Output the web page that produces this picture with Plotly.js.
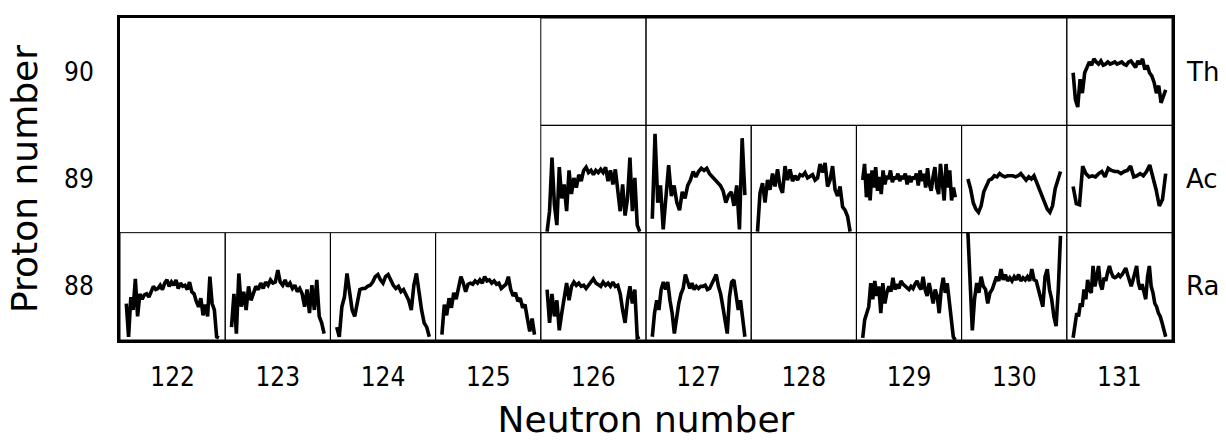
<!DOCTYPE html>
<html>
<head>
<meta charset="utf-8">
<script src="https://cdn.plot.ly/plotly-3.0.1.min.js"></script>
<style>html,body{margin:0;padding:0;background:#fff;}#chart{width:1226px;height:441px;}</style>
</head>
<body>
<div id="chart"></div>
<script>
// Axis categories
const neutronTicks = [122, 123, 124, 125, 126, 127, 128, 129, 130, 131];
const protonTicks = [88, 89, 90];
const elementNames = ["Ra", "Ac", "Th"];

// Spectra per cell: height inside the cell, percent of cell height (0 = cell bottom, 100 = cell top)
const ra122 = [34,3,40,28,57,22,43,38,42,43,40,46,50,47,48,51,47,53,56,50,54,51,56,48,53,50,51,47,54,45,43,36,31,39,23,33,22,59,34,28,3,2];
const ra123 = [12,43,6,62,31,45,28,50,37,43,50,47,53,48,54,51,56,53,54,65,54,51,56,50,53,48,51,45,48,43,31,47,25,51,28,56,22,16,6];
const ra124 = [12,3,31,40,62,43,28,22,37,47,48,48,50,51,54,59,61,56,53,59,61,56,51,48,50,45,47,42,37,28,51,62,43,28,16,12,3];
const ra125 = [5,33,23,39,30,44,38,48,59,53,45,52,53,52,55,53,56,53,59,55,56,53,55,52,53,48,50,52,59,47,41,44,36,39,30,33,20,8,20,5];
const ra126 = [47,16,43,22,37,9,25,40,53,37,50,54,51,53,50,51,48,51,54,57,53,51,50,54,51,53,50,54,50,51,43,28,16,37,50,34,47,2,3];
const ra127 = [3,25,37,28,47,54,47,54,37,25,6,22,34,43,48,61,53,48,53,47,50,48,50,50,51,47,48,53,56,61,50,43,31,19,6,40,54,56,43,28,37,16,3];
const ra129 = [2,19,25,31,53,38,55,41,50,25,53,34,44,50,45,58,47,52,48,55,52,50,48,47,50,48,52,55,50,47,59,47,41,53,44,34,47,41,25,47,58,44,53,38,19,3,0];
const ra130 = [100,47,9,38,53,44,59,50,47,34,44,47,53,59,55,66,56,61,55,58,55,59,56,61,55,58,56,59,55,66,56,55,47,39,31,59,66,47,38,22,13,47,97];
const ra131 = [2,13,25,22,34,31,47,38,56,47,44,69,50,59,69,52,47,58,55,63,69,63,59,58,59,61,59,61,64,67,61,55,50,56,63,69,53,47,52,44,38,59,69,50,44,34,31,25,22,16,9,3];
const ac126 = [1,20,70,26,7,61,32,45,20,58,36,51,42,54,48,58,61,56,58,54,58,56,59,56,61,48,58,45,59,38,20,45,16,32,70,20,51,7,1];
const ac127 = [13,92,28,44,3,38,63,34,44,28,21,38,32,44,49,57,52,57,60,58,60,55,52,50,47,44,39,28,35,38,25,44,3,88,35];
const ac128 = [1,37,46,28,49,40,55,43,59,43,37,62,49,59,48,53,49,54,53,56,51,53,54,49,51,64,56,65,43,49,62,40,34,43,24,21,15,1];
const ac129 = [49,64,33,55,30,58,42,61,39,52,36,58,45,53,50,58,47,52,50,55,48,53,50,55,45,53,47,52,50,55,44,58,48,55,42,60,45,39,52,61,42,36,64,48,30,64,42,58,30,42,33];
const ac130 = [50,41,28,22,19,25,38,44,49,50,53,52,55,53,52,53,53,53,52,53,55,52,49,52,50,53,47,41,35,28,22,19,25,41,50,57];
const ac131 = [43,27,26,62,55,52,53,52,55,57,52,60,58,57,57,55,57,58,62,52,53,55,53,57,63,52,40,25,31,55];
const th131 = [49,24,17,43,30,49,54,59,56,62,59,57,60,56,57,59,57,58,59,57,58,59,57,56,59,60,57,54,60,57,62,52,56,49,46,40,30,37,21,27,33];

// Which cell each spectrum belongs to
const cellN = [122,123,124,125,126,127,129,130,131,126,127,128,129,130,131,131];
const cellZ = [88,88,88,88,88,88,88,88,88,89,89,89,89,89,89,90];
const cellData = [ra122,ra123,ra124,ra125,ra126,ra127,ra129,ra130,ra131,ac126,ac127,ac128,ac129,ac130,ac131,th131];

// Boxes drawn on the chart (neutron range start/end, proton number)
const boxN0 = [121.5,122.5,123.5,124.5,125.5,126.5,127.5,128.5,129.5,130.5, 125.5,126.5,127.5,128.5,129.5,130.5, 125.5,126.5,130.5];
const boxN1 = [122.5,123.5,124.5,125.5,126.5,127.5,128.5,129.5,130.5,131.5, 126.5,127.5,128.5,129.5,130.5,131.5, 126.5,130.5,131.5];
const boxZ  = [88,88,88,88,88,88,88,88,88,88, 89,89,89,89,89,89, 90,90,90];

const traces = cellData.map((vals, c) => {
  const k = vals.length;
  return {
    type: 'scatter', mode: 'lines',
    x: vals.map((v, i) => cellN[c] - 0.44 + 0.88 * i / (k - 1)),
    y: vals.map(v => cellZ[c] - 0.5 + v / 100),
    line: {color: '#000', width: 3.6},
    hoverinfo: 'skip', showlegend: false
  };
});

const shapes = boxZ.map((z, i) => ({
  type: 'rect', xref: 'x', yref: 'y',
  x0: boxN0[i], x1: boxN1[i], y0: z - 0.5, y1: z + 0.5,
  line: {color: '#000', width: 1}, layer: 'below'
}));

const tickFont = {family: 'DejaVu Sans Condensed, sans-serif', size: 26, color: '#000'};
const titleFont = {family: 'DejaVu Sans, sans-serif', size: 36, color: '#000'};

const annotations = protonTicks.map((z, i) => ({
  xref: 'paper', yref: 'y', x: 1, y: z, xanchor: 'left', yanchor: 'middle',
  xshift: 12, text: elementNames[i], showarrow: false,
  font: {family: 'DejaVu Sans, sans-serif', size: 26, color: '#000'}
}));

const layout = {
  width: 1226, height: 441,
  margin: {l: 120, r: 54, t: 18, b: 101},
  paper_bgcolor: '#fff', plot_bgcolor: '#fff',
  showlegend: false,
  xaxis: {
    range: [121.5, 131.5], tickvals: neutronTicks, ticktext: neutronTicks.map(String),
    ticks: 'outside', ticklen: 12, tickcolor: 'rgba(0,0,0,0)',
    showgrid: false, zeroline: false, showline: true, mirror: true, linecolor: '#000', linewidth: 3,
    tickfont: tickFont,
    title: {text: 'Neutron number', font: titleFont, standoff: 16}
  },
  yaxis: {
    range: [87.5, 90.5], tickvals: protonTicks, ticktext: protonTicks.map(String),
    ticks: 'outside', ticklen: 18, tickcolor: 'rgba(0,0,0,0)',
    showgrid: false, zeroline: false, showline: true, mirror: true, linecolor: '#000', linewidth: 3,
    tickfont: tickFont,
    title: {text: 'Proton number', font: titleFont, standoff: 16}
  },
  shapes: shapes,
  annotations: annotations
};

Plotly.newPlot('chart', traces, layout, {displayModeBar: false, staticPlot: true});
</script>
</body>
</html>
